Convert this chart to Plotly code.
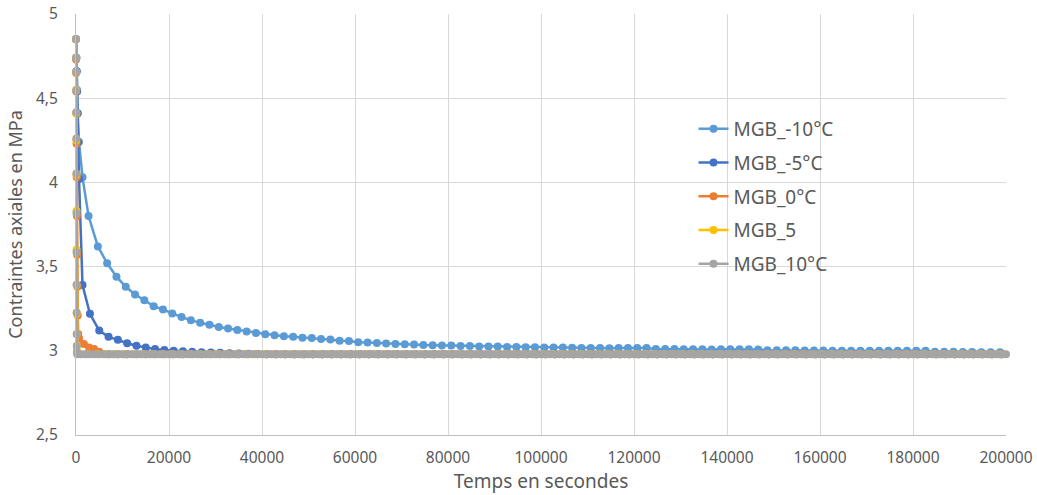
import plotly.graph_objects as go

# ---- data ----
# MGB_-10°C
t_m10 = [0, 60, 120, 200, 360, 640, 1400,
         2700, 4700, 6700, 8700, 10700, 12700, 14700, 16700, 18700, 20700,
         22700, 24700, 26700, 28700, 30700, 32700, 34700, 36700, 38700, 40700,
         42700, 44700, 46700, 48700, 50700, 52700, 54700, 56700, 58700, 60700,
         62700, 64700, 66700, 68700, 70700, 72700, 74700, 76700, 78700, 80700,
         82700, 84700, 86700, 88700, 90700, 92700, 94700, 96700, 98700, 100700,
         102700, 104700, 106700, 108700, 110700, 112700, 114700, 116700, 118700, 120700,
         122700, 124700, 126700, 128700, 130700, 132700, 134700, 136700, 138700, 140700,
         142700, 144700, 146700, 148700, 150700, 152700, 154700, 156700, 158700, 160700,
         162700, 164700, 166700, 168700, 170700, 172700, 174700, 176700, 178700, 180700,
         182700, 184700, 186700, 188700, 190700, 192700, 194700, 196700, 198700]
v_m10 = [4.85, 4.74, 4.66, 4.55, 4.41, 4.24, 4.03,
         3.80, 3.62, 3.52, 3.44, 3.38, 3.335, 3.30, 3.265, 3.245, 3.222,
         3.200, 3.182, 3.166, 3.155, 3.141, 3.132, 3.124, 3.115, 3.106, 3.099,
         3.093, 3.086, 3.084, 3.078, 3.076, 3.070, 3.067, 3.060, 3.058, 3.051,
         3.049, 3.046, 3.044, 3.041, 3.039, 3.037, 3.035, 3.033, 3.032, 3.031,
         3.029, 3.028, 3.026, 3.025, 3.025, 3.023, 3.022, 3.021, 3.021, 3.020,
         3.019, 3.019, 3.018, 3.017, 3.016, 3.016, 3.015, 3.016, 3.017, 3.017,
         3.016, 3.011, 3.010, 3.010, 3.009, 3.009, 3.009, 3.008, 3.009, 3.009,
         3.009, 3.009, 3.008, 3.004, 3.003, 3.003, 3.003, 3.002, 3.002, 3.002,
         3.001, 3.001, 3.001, 3.001, 3.000, 3.000, 3.000, 3.000, 3.000, 3.000,
         3.000, 2.995, 2.994, 2.994, 2.993, 2.993, 2.992, 2.992, 2.992]

# MGB_-5°C
t_m5 = [0, 80, 150, 250, 350, 480, 650, 1400,
        3000, 5000, 7000, 9000, 11000, 13000, 15000, 17000, 19000, 21000,
        23000, 25000, 27000, 29000, 31000, 33000, 35000, 37000, 39000, 41000,
        43000, 45000, 47000, 49000, 51000, 53000, 55000, 57000, 59000, 61000,
        63000, 65000, 67000, 69000, 71000, 73000, 75000, 77000, 79000, 81000,
        83000, 85000, 87000, 89000, 91000, 93000, 95000, 97000, 99000, 101000,
        103000, 105000, 107000, 109000, 111000, 113000, 115000, 117000, 119000, 121000,
        123000, 125000, 127000, 129000, 131000, 133000, 135000, 137000, 139000, 141000,
        143000, 145000, 147000, 149000, 151000, 153000, 155000, 157000, 159000, 161000,
        163000, 165000, 167000, 169000, 171000, 173000, 175000, 177000, 179000, 181000,
        183000, 185000, 187000, 189000, 191000, 193000, 195000, 197000, 199000]
v_m5 = [4.85, 4.74, 4.66, 4.54, 4.41, 4.24, 4.02, 3.39,
        3.22, 3.12, 3.083, 3.065, 3.045, 3.03, 3.02, 3.01, 3.005, 3.0,
        2.998, 2.995, 2.992, 2.99, 2.988, 2.986, 2.984, 2.982, 2.981, 2.98,
        2.98, 2.98, 2.98, 2.98, 2.98, 2.98, 2.98, 2.98, 2.98, 2.98,
        2.98, 2.98, 2.98, 2.98, 2.98, 2.98, 2.98, 2.98, 2.98, 2.98,
        2.98, 2.98, 2.98, 2.98, 2.98, 2.98, 2.98, 2.98, 2.98, 2.98,
        2.98, 2.98, 2.98, 2.98, 2.98, 2.98, 2.98, 2.98, 2.98, 2.98,
        2.98, 2.98, 2.98, 2.98, 2.98, 2.98, 2.98, 2.98, 2.98, 2.98,
        2.98, 2.98, 2.98, 2.98, 2.98, 2.98, 2.98, 2.98, 2.98, 2.98,
        2.98, 2.98, 2.98, 2.98, 2.98, 2.98, 2.98, 2.98, 2.98, 2.98,
        2.98, 2.98, 2.98, 2.98, 2.98, 2.98, 2.98, 2.98, 2.98]

# MGB_0°C
t_0 = [0, 20, 40, 60, 90, 120, 160, 200, 250, 310, 380, 470, 650, 1700, 2800, 3900, 5000,
       7000, 9000, 11000, 13000, 15000, 17000, 19000, 21000,
       23000, 25000, 27000, 29000, 31000, 33000, 35000, 37000, 39000, 41000,
       43000, 45000, 47000, 49000, 51000, 53000, 55000, 57000, 59000, 61000,
       63000, 65000, 67000, 69000, 71000, 73000, 75000, 77000, 79000, 81000,
       83000, 85000, 87000, 89000, 91000, 93000, 95000, 97000, 99000, 101000,
       103000, 105000, 107000, 109000, 111000, 113000, 115000, 117000, 119000, 121000,
       123000, 125000, 127000, 129000, 131000, 133000, 135000, 137000, 139000, 141000,
       143000, 145000, 147000, 149000, 151000, 153000, 155000, 157000, 159000, 161000,
       163000, 165000, 167000, 169000, 171000, 173000, 175000, 177000, 179000, 181000,
       183000, 185000, 187000, 189000, 191000, 193000, 195000, 197000, 199000]
v_0 = [4.85, 4.73, 4.65, 4.54, 4.41, 4.23, 4.03, 3.80, 3.57, 3.38, 3.21, 3.10, 3.075, 3.04, 3.02, 3.01, 2.995,
       2.98, 2.98, 2.98, 2.98, 2.98, 2.98, 2.98, 2.98,
       2.98, 2.98, 2.98, 2.98, 2.98, 2.98, 2.98, 2.98, 2.98, 2.98,
       2.98, 2.98, 2.98, 2.98, 2.98, 2.98, 2.98, 2.98, 2.98, 2.98,
       2.98, 2.98, 2.98, 2.98, 2.98, 2.98, 2.98, 2.98, 2.98, 2.98,
       2.98, 2.98, 2.98, 2.98, 2.98, 2.98, 2.98, 2.98, 2.98, 2.98,
       2.98, 2.98, 2.98, 2.98, 2.98, 2.98, 2.98, 2.98, 2.98, 2.98,
       2.98, 2.98, 2.98, 2.98, 2.98, 2.98, 2.98, 2.98, 2.98, 2.98,
       2.98, 2.98, 2.98, 2.98, 2.98, 2.98, 2.98, 2.98, 2.98, 2.98,
       2.98, 2.98, 2.98, 2.98, 2.98, 2.98, 2.98, 2.98, 2.98, 2.98,
       2.98, 2.98, 2.98, 2.98, 2.98, 2.98, 2.98, 2.98, 2.98]

# MGB_5
t_5 = [0, 15, 30, 45, 60, 75, 90, 105, 120, 135, 150, 165, 180, 200, 300,
       2500, 4500, 6500, 8500, 10500, 12500, 14500, 16500, 18500, 20500,
       22500, 24500, 26500, 28500, 30500, 32500, 34500, 36500, 38500, 40500,
       42500, 44500, 46500, 48500, 50500, 52500, 54500, 56500, 58500, 60500,
       62500, 64500, 66500, 68500, 70500, 72500, 74500, 76500, 78500, 80500,
       82500, 84500, 86500, 88500, 90500, 92500, 94500, 96500, 98500, 100500,
       102500, 104500, 106500, 108500, 110500, 112500, 114500, 116500, 118500, 120500,
       122500, 124500, 126500, 128500, 130500, 132500, 134500, 136500, 138500, 140500,
       142500, 144500, 146500, 148500, 150500, 152500, 154500, 156500, 158500, 160500,
       162500, 164500, 166500, 168500, 170500, 172500, 174500, 176500, 178500, 180500,
       182500, 184500, 186500, 188500, 190500, 192500, 194500, 196500, 198500]
v_5 = [4.85, 4.74, 4.655, 4.55, 4.41, 4.25, 4.045, 3.83, 3.60, 3.39, 3.22, 3.10, 3.03, 3.0, 2.985,
       2.98, 2.98, 2.98, 2.98, 2.98, 2.98, 2.98, 2.98, 2.98, 2.98,
       2.98, 2.98, 2.98, 2.98, 2.98, 2.98, 2.98, 2.98, 2.98, 2.98,
       2.98, 2.98, 2.98, 2.98, 2.98, 2.98, 2.98, 2.98, 2.98, 2.98,
       2.98, 2.98, 2.98, 2.98, 2.98, 2.98, 2.98, 2.98, 2.98, 2.98,
       2.98, 2.98, 2.98, 2.98, 2.98, 2.98, 2.98, 2.98, 2.98, 2.98,
       2.98, 2.98, 2.98, 2.98, 2.98, 2.98, 2.98, 2.98, 2.98, 2.98,
       2.98, 2.98, 2.98, 2.98, 2.98, 2.98, 2.98, 2.98, 2.98, 2.98,
       2.98, 2.98, 2.98, 2.98, 2.98, 2.98, 2.98, 2.98, 2.98, 2.98,
       2.98, 2.98, 2.98, 2.98, 2.98, 2.98, 2.98, 2.98, 2.98, 2.98,
       2.98, 2.98, 2.98, 2.98, 2.98, 2.98, 2.98, 2.98, 2.98]

# MGB_10°C (dense sampling: the markers merge into a band at 2.98)
t_10 = [0, 15, 30, 45, 60, 75, 90, 105, 120, 135, 150, 165, 180, 200, 250,
        1000, 2000, 3000, 4000, 5000, 6000, 7000, 8000, 9000, 10000,
        11000, 12000, 13000, 14000, 15000, 16000, 17000, 18000, 19000, 20000,
        21000, 22000, 23000, 24000, 25000, 26000, 27000, 28000, 29000, 30000,
        31000, 32000, 33000, 34000, 35000, 36000, 37000, 38000, 39000, 40000,
        41000, 42000, 43000, 44000, 45000, 46000, 47000, 48000, 49000, 50000,
        51000, 52000, 53000, 54000, 55000, 56000, 57000, 58000, 59000, 60000,
        61000, 62000, 63000, 64000, 65000, 66000, 67000, 68000, 69000, 70000,
        71000, 72000, 73000, 74000, 75000, 76000, 77000, 78000, 79000, 80000,
        81000, 82000, 83000, 84000, 85000, 86000, 87000, 88000, 89000, 90000,
        91000, 92000, 93000, 94000, 95000, 96000, 97000, 98000, 99000, 100000,
        101000, 102000, 103000, 104000, 105000, 106000, 107000, 108000, 109000, 110000,
        111000, 112000, 113000, 114000, 115000, 116000, 117000, 118000, 119000, 120000,
        121000, 122000, 123000, 124000, 125000, 126000, 127000, 128000, 129000, 130000,
        131000, 132000, 133000, 134000, 135000, 136000, 137000, 138000, 139000, 140000,
        141000, 142000, 143000, 144000, 145000, 146000, 147000, 148000, 149000, 150000,
        151000, 152000, 153000, 154000, 155000, 156000, 157000, 158000, 159000, 160000,
        161000, 162000, 163000, 164000, 165000, 166000, 167000, 168000, 169000, 170000,
        171000, 172000, 173000, 174000, 175000, 176000, 177000, 178000, 179000, 180000,
        181000, 182000, 183000, 184000, 185000, 186000, 187000, 188000, 189000, 190000,
        191000, 192000, 193000, 194000, 195000, 196000, 197000, 198000, 199000, 200000]
v_10 = [4.851, 4.738, 4.657, 4.544, 4.416, 4.261, 4.053, 3.816, 3.584, 3.392, 3.228, 3.099, 3.029, 2.99, 2.98,
        2.98, 2.98, 2.98, 2.98, 2.98, 2.98, 2.98, 2.98, 2.98, 2.98,
        2.98, 2.98, 2.98, 2.98, 2.98, 2.98, 2.98, 2.98, 2.98, 2.98,
        2.98, 2.98, 2.98, 2.98, 2.98, 2.98, 2.98, 2.98, 2.98, 2.98,
        2.98, 2.98, 2.98, 2.98, 2.98, 2.98, 2.98, 2.98, 2.98, 2.98,
        2.98, 2.98, 2.98, 2.98, 2.98, 2.98, 2.98, 2.98, 2.98, 2.98,
        2.98, 2.98, 2.98, 2.98, 2.98, 2.98, 2.98, 2.98, 2.98, 2.98,
        2.98, 2.98, 2.98, 2.98, 2.98, 2.98, 2.98, 2.98, 2.98, 2.98,
        2.98, 2.98, 2.98, 2.98, 2.98, 2.98, 2.98, 2.98, 2.98, 2.98,
        2.98, 2.98, 2.98, 2.98, 2.98, 2.98, 2.98, 2.98, 2.98, 2.98,
        2.98, 2.98, 2.98, 2.98, 2.98, 2.98, 2.98, 2.98, 2.98, 2.98,
        2.98, 2.98, 2.98, 2.98, 2.98, 2.98, 2.98, 2.98, 2.98, 2.98,
        2.98, 2.98, 2.98, 2.98, 2.98, 2.98, 2.98, 2.98, 2.98, 2.98,
        2.98, 2.98, 2.98, 2.98, 2.98, 2.98, 2.98, 2.98, 2.98, 2.98,
        2.98, 2.98, 2.98, 2.98, 2.98, 2.98, 2.98, 2.98, 2.98, 2.98,
        2.98, 2.98, 2.98, 2.98, 2.98, 2.98, 2.98, 2.98, 2.98, 2.98,
        2.98, 2.98, 2.98, 2.98, 2.98, 2.98, 2.98, 2.98, 2.98, 2.98,
        2.98, 2.98, 2.98, 2.98, 2.98, 2.98, 2.98, 2.98, 2.98, 2.98,
        2.98, 2.98, 2.98, 2.98, 2.98, 2.98, 2.98, 2.98, 2.98, 2.98,
        2.98, 2.98, 2.98, 2.98, 2.98, 2.98, 2.98, 2.98, 2.98, 2.98,
        2.98, 2.98, 2.98, 2.98, 2.98, 2.98, 2.98, 2.98, 2.98, 2.98]

series_names = ["MGB_-10°C", "MGB_-5°C", "MGB_0°C", "MGB_5", "MGB_10°C"]
series_colors = ["#5B9BD5", "#4472C4", "#ED7D31", "#FFC000", "#A5A5A5"]
series_t = [t_m10, t_m5, t_0, t_5, t_10]
series_v = [v_m10, v_m5, v_0, v_5, v_10]

x_tickvals = [0, 20000, 40000, 60000, 80000, 100000, 120000, 140000, 160000, 180000, 200000]
y_tickvals = [2.5, 3, 3.5, 4, 4.5, 5]
y_ticktext = ["2,5", "3", "3,5", "4", "4,5", "5"]

FONT = "Noto Sans"
TXT = "#595959"

fig = go.Figure()
for i, (name, col, t, v) in enumerate(zip(series_names, series_colors, series_t, series_v)):
    n = min(len(t), len(v))
    fig.add_trace(go.Scatter(
        x=t[:n], y=v[:n], name=name, mode="lines+markers",
        line=dict(color=col, width=2.5),
        marker=dict(color=col, size=8),
        cliponaxis=False, legendgroup=f"g{i}",
    ))

fig.update_layout(
    width=1037, height=495,
    margin=dict(l=76, r=31, t=14, b=60, autoexpand=False),
    paper_bgcolor="white", plot_bgcolor="white",
    font=dict(family=FONT, size=15, color=TXT),
    showlegend=True,
    legend=dict(x=0.664, y=0.772, xanchor="left", yanchor="top",
                bgcolor="rgba(0,0,0,0)", font=dict(size=19, color=TXT),
                traceorder="grouped", tracegroupgap=6, itemwidth=30),
)
fig.update_xaxes(
    range=[0, 200000], tickvals=x_tickvals, tickformat="d",
    showgrid=True, gridcolor="#D9D9D9", gridwidth=1,
    showline=True, linecolor="#BFBFBF", linewidth=1,
    zeroline=False, ticks="", ticklabelstandoff=8, automargin=False,
    tickfont=dict(size=15.5, color=TXT),
    title=dict(text="Temps en secondes", font=dict(size=19, color=TXT), standoff=2),
)
fig.update_yaxes(
    range=[2.5, 5], tickvals=y_tickvals, ticktext=y_ticktext,
    showgrid=True, gridcolor="#D9D9D9", gridwidth=1,
    showline=True, linecolor="#BFBFBF", linewidth=1,
    zeroline=False, ticks="", ticklabelstandoff=14, automargin=False,
    tickfont=dict(size=15.5, color=TXT),
    title=dict(text="Contraintes axiales en MPa", font=dict(size=18, color=TXT), standoff=8),
)

fig.write_html("out.html", config={"displayModeBar": False},
               post_script="document.body.style.margin='0';")
